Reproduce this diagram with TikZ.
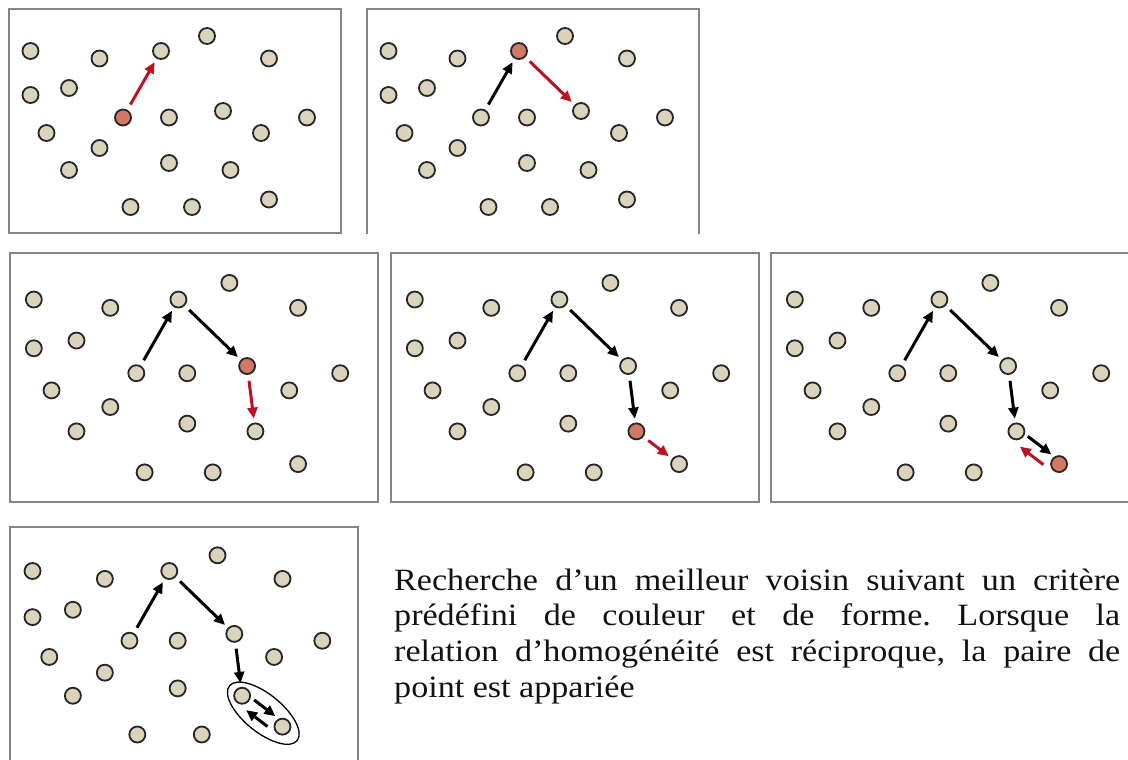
\documentclass[tikz,border=0pt]{standalone}
\usepackage{fontspec}
\setmainfont{Liberation Serif}[FakeStretch=1.1]
\usetikzlibrary{arrows.meta,calc,shapes.geometric}
\definecolor{dotbeige}{HTML}{DCD3BD}
\definecolor{dotred}{HTML}{D27866}
\definecolor{arrred}{HTML}{BD1023}
\definecolor{framegray}{HTML}{858585}
\tikzset{
  dot/.style={circle, draw=black!85, line width=1.8pt, minimum size=16pt, inner sep=0pt, fill=dotbeige},
  frame/.style={draw=framegray, line width=2pt},
  arr/.style={line width=3pt, -{Triangle[length=11pt,width=10pt]}, shorten <=6pt, shorten >=4pt},
  blk/.style={arr, draw=black},
  rd/.style={arr, draw=arrred},
  pairloop/.style={ellipse, draw=black, line width=1.3pt, minimum width=87pt, minimum height=38pt, inner sep=0pt}
}
% dots of one panel: #1 name, #2 origin, #3 scale, #4 index of red dot (0 = none)
\newcommand\drawdots[4]{%
  \begin{scope}[shift={#2}, scale=#3]
    \foreach \i/\x/\y in {1/21.5/42, 2/90.5/49.5, 3/152/42, 4/198/27, 5/260/49.5,
                          6/21.5/86, 7/60/79, 8/114/108.5, 9/160/108.5, 10/214/102,
                          11/298/108.5, 12/37.5/124, 13/252/124, 14/90.5/139, 15/60/161,
                          16/160/154, 17/221.5/161, 18/121.5/198, 19/183/198, 20/260/190.5}{
      \ifnum\i=#4 \def\dotfill{dotred}\else\def\dotfill{dotbeige}\fi
      \node[dot, fill=\dotfill] (#1-\i) at (\x,\y) {};
    }
  \end{scope}}
% arrow shifted to its left side: #1 style, #2 from, #3 to, #4 offset
\newcommand\sidearrow[4]{%
  \draw[#1, shorten <=0pt, shorten >=0pt]
    ($(#2)!12pt!(#3)!#4!90:(#3)$) -- ($(#3)!12pt!(#2)!#4!-90:(#2)$);}
\begin{document}
\begin{tikzpicture}[x=1pt, y=-1pt]
  \useasboundingbox (0,0) rectangle (1128,760);
  \clip (0,0) rectangle (1128,760);
  \fill[white] (0,0) rectangle (1128,760);

  % frames
  \draw[frame] (9,9) rectangle (341,233);
  \draw[frame] (367,234) -- (367,9) -- (699,9) -- (699,234);
  \draw[frame] (10,253) rectangle (378,502);
  \draw[frame] (391,253) rectangle (759,502);
  \draw[frame] (771,253) rectangle (1139,502);
  \draw[frame] (10,775) -- (10,527) -- (358,527) -- (358,775);

  % dots
  \drawdots{P1}{(9,9)}{1}{8}
  \drawdots{P2}{(367,9)}{1}{3}
  \drawdots{P3}{(10,253)}{1.108}{10}
  \drawdots{P4}{(391,253)}{1.108}{17}
  \drawdots{P5}{(771,253)}{1.108}{20}
  \drawdots{P6}{(10,527)}{1.048}{0}

  % panel 1
  \draw[rd] (P1-8) -- (P1-3);
  % panel 2
  \draw[blk] (P2-8) -- (P2-3);
  \draw[rd] (P2-3) -- (P2-10);
  % panel 3
  \draw[blk] (P3-8) -- (P3-3);
  \draw[blk] (P3-3) -- (P3-10);
  \draw[rd] (P3-10) -- (P3-17);
  % panel 4
  \draw[blk] (P4-8) -- (P4-3);
  \draw[blk] (P4-3) -- (P4-10);
  \draw[blk] (P4-10) -- (P4-17);
  \draw[rd] (P4-17) -- (P4-20);
  % panel 5
  \draw[blk] (P5-8) -- (P5-3);
  \draw[blk] (P5-3) -- (P5-10);
  \draw[blk] (P5-10) -- (P5-17);
  \sidearrow{blk}{P5-17}{P5-20}{3pt}
  \sidearrow{rd}{P5-20}{P5-17}{10pt}
  % panel 6
  \draw[blk] (P6-8) -- (P6-3);
  \draw[blk] (P6-3) -- (P6-10);
  \draw[blk] (P6-10) -- (P6-17);
  \sidearrow{blk}{P6-17}{P6-20}{4pt}
  \sidearrow{blk}{P6-20}{P6-17}{9pt}
  \node[pairloop, rotate=-39] (pair) at ($(P6-17)!0.5!(P6-20)+(1,2)$) {};

  % caption
  \node[anchor=base west, text width=726pt, align=justify, inner sep=0pt,
        font=\fontsize{31pt}{35.7pt}\selectfont\frenchspacing, text=black!93] (caption) at (394,590)
    {Recherche d’un meilleur voisin suivant un critère\linebreak
     prédéfini de couleur et de forme. Lorsque la\linebreak
     relation d’homogénéité est réciproque, la paire de\linebreak
     point est appariée};
\end{tikzpicture}
\end{document}
